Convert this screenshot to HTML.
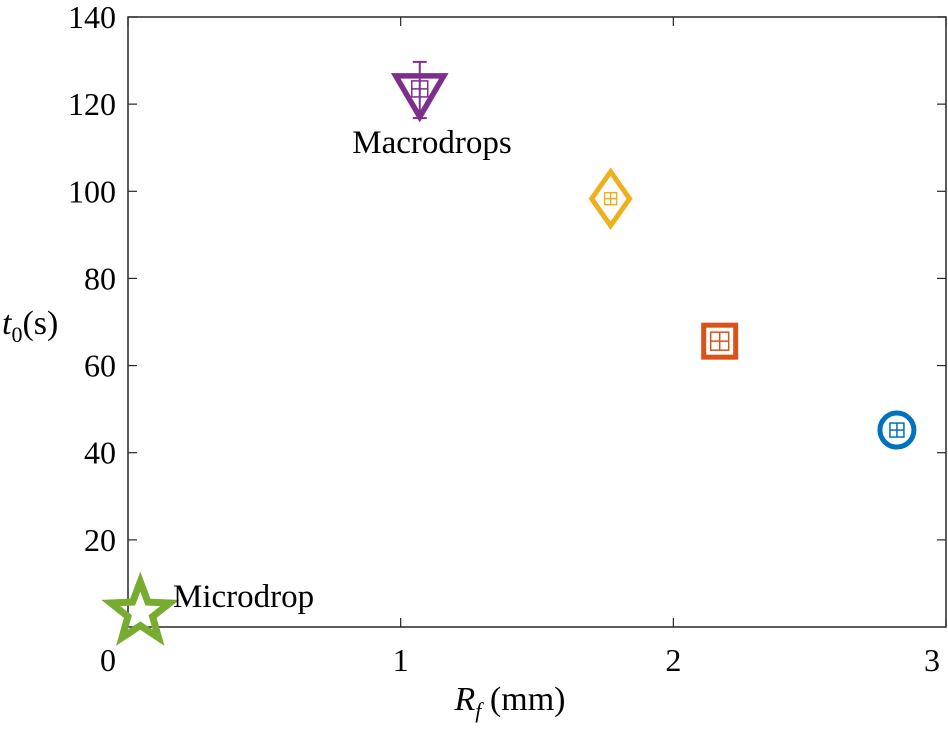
<!DOCTYPE html>
<html><head><meta charset="utf-8"><style>
body{margin:0;background:#fff}
svg text{font-family:"Liberation Serif",serif;fill:#000}
</style></head><body>
<svg id="chart" width="948" height="729">
<g id="axes"></g>
<g id="marks"></g>
</svg>
<script>
const xTicks=[0,1,2,3];
const yTicks=[20,40,60,80,100,120,140];
const names=["microdrop","macrodrop-1","macrodrop-2","macrodrop-3","macrodrop-4"];
const xVals=[0.045,1.07,1.77,2.17,2.82];
const yVals=[3.3,123.5,98.3,65.6,45.2];
const errLo=[0,116.8,0,0,0];
const errHi=[0,129.7,0,0,0];
const colors=["#77AC30","#7E2F8E","#EDB120","#D95319","#0072BD"];
const shapes=["star","tri","diamond","square","circle"];

const L=128,R=946,T=17,B=627;
const X=v=>L+v/3*(R-L);
const Y=v=>B-v/140*(B-T);
const NS="http://www.w3.org/2000/svg";
function mk(tag,attrs,parent){const e=document.createElementNS(NS,tag);for(const k in attrs)e.setAttribute(k,attrs[k]);parent.appendChild(e);return e;}
const ax=document.getElementById('axes'),mg=document.getElementById('marks');
const frame=mk('rect',{x:L,y:T,width:R-L,height:B-T,fill:'none',stroke:'#262626','stroke-width':1.5},ax);


xTicks.forEach((v,i)=>{
  const x=X(v);
  mk('line',{x1:x,y1:B,x2:x,y2:B-9,stroke:'#262626','stroke-width':1.2},ax);
  mk('line',{x1:x,y1:T,x2:x,y2:T+9,stroke:'#262626','stroke-width':1.2},ax);
  let tx=x,anchor='middle';
  if(i===0){tx=x-12;anchor='end';}
  if(i===xTicks.length-1){tx=R-6;anchor='end';}
  const t=mk('text',{x:tx,y:B+44,'text-anchor':anchor,'font-size':32},ax);
  t.textContent=v;
  
  
});
yTicks.forEach(v=>{
  const y=Y(v);
  mk('line',{x1:L,y1:y,x2:L+9,y2:y,stroke:'#262626','stroke-width':1.2},ax);
  mk('line',{x1:R,y1:y,x2:R-9,y2:y,stroke:'#262626','stroke-width':1.2},ax);
  const t=mk('text',{x:L-12,y:y+11,'text-anchor':'end','font-size':32},ax);
  t.textContent=v;
  
  
});
const xt=mk('text',{x:510,y:710,'text-anchor':'middle','font-size':34},ax);
xt.innerHTML='<tspan font-style="italic">R</tspan><tspan font-style="italic" font-size="22" dy="8">f</tspan><tspan dy="-8"> (mm)</tspan>';


const yt=mk('text',{x:2,y:334,'font-size':34},ax);
yt.innerHTML='<tspan font-style="italic">t</tspan><tspan font-size="22" dy="8">0</tspan><tspan dy="-8">(s)</tspan>';



function cross(g,cx,cy,s,c){
  mk('rect',{x:cx-s,y:cy-s,width:2*s,height:2*s,fill:'none',stroke:c,'stroke-width':1.5},g);
  mk('line',{x1:cx,y1:cy-s,x2:cx,y2:cy+s,stroke:c,'stroke-width':1.5},g);
  mk('line',{x1:cx-s,y1:cy,x2:cx+s,y2:cy,stroke:c,'stroke-width':1.5},g);
}
xVals.forEach((xv,i)=>{
  const g=mk('g',{},mg);
  
  
  const cx=X(xv),cy=Y(yVals[i]),c=colors[i],sh=shapes[i];
  if(errHi[i]){
    const y1=Y(errHi[i]),y2=Y(errLo[i]);
    mk('line',{x1:cx,y1:y1,x2:cx,y2:y2,stroke:c,'stroke-width':2},g);
    mk('line',{x1:cx-7,y1:y1,x2:cx+7,y2:y1,stroke:c,'stroke-width':2},g);
    mk('line',{x1:cx-7,y1:y2,x2:cx+7,y2:y2,stroke:c,'stroke-width':2},g);
  }
  if(sh==='circle'){mk('circle',{cx,cy,r:17,fill:'none',stroke:c,'stroke-width':5},g);cross(g,cx,cy,7,c);}
  if(sh==='square'){mk('rect',{x:cx-16,y:cy-16,width:32,height:32,fill:'none',stroke:c,'stroke-width':5},g);cross(g,cx,cy,9,c);}
  if(sh==='diamond'){mk('polygon',{points:`${cx},${cy-27} ${cx+19},${cy} ${cx},${cy+27} ${cx-19},${cy}`,fill:'none',stroke:c,'stroke-width':5},g);cross(g,cx,cy,6,c);}
  if(sh==='tri'){mk('polygon',{points:`${cx-24},${cy-13} ${cx+24},${cy-13} ${cx},${cy+28}`,fill:'none',stroke:c,'stroke-width':5.5},g);cross(g,cx,cy,8,c);}
  if(sh==='star'){
    let p=[];for(let k=0;k<10;k++){const a=-Math.PI/2+k*Math.PI/5,r=k%2?13:31;p.push((cx+r*Math.cos(a)).toFixed(1)+','+(cy+r*Math.sin(a)).toFixed(1));}
    mk('polygon',{points:p.join(' '),fill:'none',stroke:c,'stroke-width':7,'stroke-linejoin':'miter'},g);cross(g,cx,cy,5,'#fff');
  }
});
const a1=mk('text',{x:432,y:153,'text-anchor':'middle','font-size':33},mg);
a1.textContent='Macrodrops';


const a2=mk('text',{x:173,y:607,'font-size':33},mg);
a2.textContent='Microdrop';


</script>
</body></html>
